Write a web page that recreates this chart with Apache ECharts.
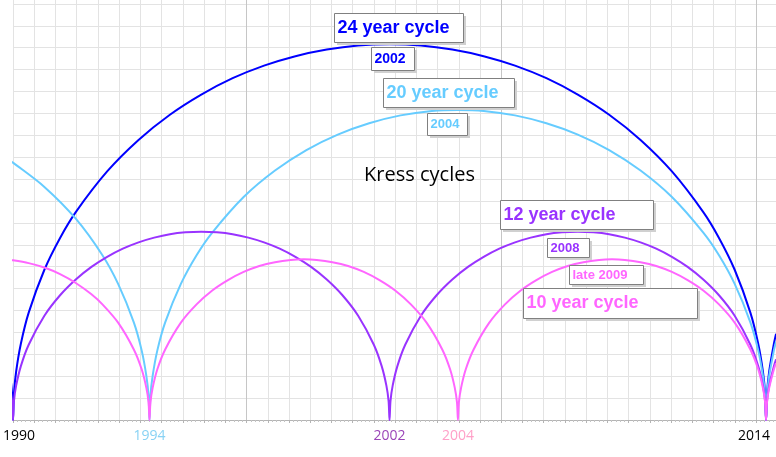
<!DOCTYPE html>
<html>
<head>
<meta charset="utf-8">
<script src="https://cdn.jsdelivr.net/npm/echarts@6.0.0/dist/echarts.min.js"></script>
<style>
    html, body {margin: 0; padding: 0; background: #fff;}
    #main {width: 776px; height: 457px;}
</style>
</head>
<body>
<div id="main"></div>
<script>
// cycle arcs, x in years, height in the same year units
var yearsC24 = [1989.87, 1989.97, 1990, 1990.03, 1990.1, 1990.25, 1990.5, 1991, 1991.5, 1992, 1993, 1994, 1995, 1996, 1997, 1998, 1999, 2000, 2001, 2002, 2003, 2004, 2005, 2006, 2007, 2008, 2009, 2010, 2011, 2012, 2012.5, 2013, 2013.5, 2013.75, 2013.9, 2013.97, 2014, 2014.03, 2014.1, 2014.25, 2014.32];
var heightC24 = [1.75, 0.84, 0, 0.84, 1.54, 2.42, 3.41, 4.77, 5.78, 6.60, 7.89, 8.89, 9.69, 10.33, 10.85, 11.25, 11.55, 11.76, 11.89, 11.93, 11.89, 11.76, 11.55, 11.25, 10.85, 10.33, 9.69, 8.89, 7.89, 6.60, 5.78, 4.77, 3.41, 2.42, 1.54, 0.84, 0, 0.84, 1.54, 2.42, 2.74];

var yearsC20 = [1989.87, 1990, 1991, 1992, 1992.85, 1993.35, 1993.85, 1994.1, 1994.25, 1994.32, 1994.35, 1994.38, 1994.45, 1994.6, 1994.85, 1995.35, 1995.85, 1996.35, 1997.35, 1998.35, 1999.35, 2000.35, 2001.35, 2002.35, 2003.35, 2004.18, 2005, 2006, 2007, 2008, 2009, 2010, 2011, 2012, 2012.5, 2013, 2013.5, 2013.75, 2013.9, 2013.97, 2014, 2014.03, 2014.1, 2014.25, 2014.32];
var heightC20 = [8.26, 8.17, 7.40, 6.39, 5.23, 4.32, 3.10, 2.21, 1.40, 0.77, 0, 0.77, 1.40, 2.21, 3.10, 4.32, 5.23, 5.95, 7.08, 7.92, 8.57, 9.06, 9.42, 9.67, 9.81, 9.84, 9.81, 9.67, 9.42, 9.06, 8.57, 7.92, 7.08, 5.95, 5.23, 4.32, 3.10, 2.21, 1.40, 0.77, 0, 0.77, 1.40, 2.21, 2.49];

var yearsC12 = [1989.87, 1989.97, 1990, 1990.03, 1990.1, 1990.25, 1990.5, 1991, 1991.5, 1992, 1992.5, 1993, 1993.5, 1994, 1994.5, 1995, 1995.5, 1996, 1996.5, 1997, 1997.5, 1998, 1998.5, 1999, 1999.5, 2000, 2000.5, 2001, 2001.5, 2001.75, 2001.9, 2001.97, 2002, 2002.03, 2002.1, 2002.25, 2002.5, 2003, 2003.5, 2004, 2004.5, 2005, 2005.5, 2006, 2006.5, 2007, 2007.5, 2008, 2008.5, 2009, 2009.5, 2010, 2010.5, 2011, 2011.5, 2012, 2012.5, 2013, 2013.5, 2013.75, 2013.9, 2013.97, 2014, 2014.03, 2014.1, 2014.25, 2014.32];
var heightC12 = [1.24, 0.60, 0, 0.60, 1.09, 1.71, 2.39, 3.31, 3.96, 4.46, 4.86, 5.18, 5.44, 5.64, 5.79, 5.90, 5.96, 5.98, 5.96, 5.90, 5.79, 5.64, 5.44, 5.18, 4.86, 4.46, 3.96, 3.31, 2.39, 1.71, 1.09, 0.60, 0, 0.60, 1.09, 1.71, 2.39, 3.31, 3.96, 4.46, 4.86, 5.18, 5.44, 5.64, 5.79, 5.90, 5.96, 5.98, 5.96, 5.90, 5.79, 5.64, 5.44, 5.18, 4.86, 4.46, 3.96, 3.31, 2.39, 1.71, 1.09, 0.60, 0, 0.60, 1.09, 1.71, 1.93];

var yearsC10 = [1989.87, 1990, 1990.5, 1991, 1991.5, 1992, 1992.5, 1992.85, 1993.35, 1993.85, 1994.1, 1994.25, 1994.32, 1994.35, 1994.38, 1994.45, 1994.6, 1994.85, 1995.35, 1995.85, 1996.35, 1996.85, 1997.35, 1997.85, 1998.35, 1998.85, 1999.27, 1999.68, 2000.18, 2000.68, 2001.18, 2001.68, 2002.18, 2002.68, 2003.18, 2003.68, 2003.93, 2004.08, 2004.15, 2004.18, 2004.21, 2004.28, 2004.43, 2004.68, 2005.18, 2005.68, 2006.18, 2006.68, 2007.18, 2007.68, 2008.18, 2008.68, 2009.09, 2009.5, 2010, 2010.5, 2011, 2011.5, 2012, 2012.5, 2013, 2013.5, 2013.75, 2013.9, 2013.97, 2014, 2014.03, 2014.1, 2014.25, 2014.32];
var heightC10 = [5.08, 5.07, 4.98, 4.84, 4.63, 4.35, 3.99, 3.67, 3.09, 2.24, 1.61, 1.02, 0.56, 0, 0.56, 1.02, 1.61, 2.24, 3.09, 3.67, 4.11, 4.44, 4.70, 4.89, 5.01, 5.08, 5.10, 5.08, 5.01, 4.89, 4.70, 4.44, 4.11, 3.67, 3.09, 2.24, 1.61, 1.02, 0.56, 0, 0.56, 1.02, 1.61, 2.24, 3.09, 3.67, 4.11, 4.44, 4.70, 4.89, 5.01, 5.08, 5.10, 5.08, 5.01, 4.89, 4.70, 4.44, 4.11, 3.67, 3.09, 2.24, 1.61, 1.02, 0.56, 0, 0.56, 1.02, 1.61, 1.81];

// labels under the axis sit on the cycle lows
var tickYears = [1990, 1994.35, 2002, 2004.18, 2014];
var tickTexts = ['1990', '1994', '2002', '2004', '2014'];

var pairs = function (xs, ys) {
    return xs.map(function (x, i) { return [x, ys[i]] })
}

var lightGrid = '#e3e3e3'
var vLineColors = []
for (var i = 0; i < 11; i++) vLineColors.push(lightGrid)
vLineColors.push('#c6c6c6')

var noteBox = function (x, y, w, h, text, font, color) {
    return {
        type: 'group',
        children: [
            {type: 'rect', z: 10, shape: {x: x + 3, y: y + 3, width: w, height: h}, style: {fill: '#d0d0d0'}},
            {type: 'rect', z: 11, shape: {x: x + 0.5, y: y + 0.5, width: w, height: h}, style: {fill: '#fff', stroke: '#808080', lineWidth: 1}},
            {type: 'text', z: 12, x: x + 3.5, y: y + h / 2 + 0.5, style: {text: text, font: font, fill: color, align: 'left', verticalAlign: 'middle'}}
        ]
    }
}

var arcLine = function (name, data, color) {
    return {
        name: name,
        type: 'line',
        xAxisIndex: 0,
        yAxisIndex: 0,
        data: data,
        symbol: 'none',
        smooth: 0.3,
        clip: false,
        lineStyle: {width: 2, color: color},
        itemStyle: {color: color}
    }
}

var myChart = echarts.init(document.getElementById('main'))
myChart.setOption({
    animation: false,
    backgroundColor: '#fff',
    grid: {left: 10, right: 0, top: 0, bottom: 37},
    xAxis: [
        {
            type: 'value',
            min: 1990,
            max: 2014.317,
            axisLine: {show: true, onZero: false, lineStyle: {color: '#b4b4b4'}},
            axisTick: {show: false},
            splitLine: {show: false},
            axisLabel: {
                customValues: tickYears,
                margin: 9,
                fontFamily: 'Open Sans',
                fontSize: 14,
                formatter: function (v) {
                    for (var k = 0; k < tickYears.length; k++) {
                        if (Math.abs(tickYears[k] - v) < 0.01) return '{c' + k + '|' + tickTexts[k] + '}'
                    }
                    return ''
                },
                rich: {
                    c0: {color: '#000', fontFamily: 'Open Sans', fontSize: 14, padding: [0, 0, 0, 12]},
                    c1: {color: '#88d2f4', fontFamily: 'Open Sans', fontSize: 14},
                    c2: {color: '#9b45b8', fontFamily: 'Open Sans', fontSize: 14},
                    c3: {color: '#ffa0c8', fontFamily: 'Open Sans', fontSize: 14},
                    c4: {color: '#000', fontFamily: 'Open Sans', fontSize: 14, padding: [0, 24, 0, 0]}
                }
            }
        },
        {
            // only the background grid
            type: 'value',
            position: 'bottom',
            min: 0,
            max: 35.94,
            interval: 1,
            axisLine: {show: false, onZero: false},
            axisLabel: {show: false},
            axisTick: {show: true, length: 3, lineStyle: {color: '#b4b4b4'}},
            minorTick: {show: true, splitNumber: 5, length: 2, lineStyle: {color: '#c4c4c4'}},
            splitLine: {show: true, showMaxLine: false, lineStyle: {color: vLineColors}}
        }
    ],
    yAxis: [
        {type: 'value', min: 0, max: 13.333, show: false},
        {
            type: 'value',
            min: 0,
            max: 19.18,
            interval: 1,
            axisLine: {show: false},
            axisTick: {show: false},
            axisLabel: {show: false},
            splitLine: {show: true, showMaxLine: false, lineStyle: {color: lightGrid}}
        }
    ],
    series: [
        arcLine('24 year cycle', pairs(yearsC24, heightC24), '#0000ff'),
        arcLine('20 year cycle', pairs(yearsC20, heightC20), '#66ccff'),
        arcLine('12 year cycle', pairs(yearsC12, heightC12), '#9933ff'),
        arcLine('10 year cycle', pairs(yearsC10, heightC10), '#ff66ff')
    ],
    graphic: [
        noteBox(334, 13, 129, 29, '24 year cycle', 'bold 18px "Liberation Sans"', '#0000ff'),
        noteBox(371, 47, 43, 23, '2002', 'bold 14px "Liberation Sans"', '#0000ff'),
        noteBox(383, 78, 131, 29, '20 year cycle', 'bold 18px "Liberation Sans"', '#66ccff'),
        noteBox(427, 113, 40, 22, '2004', 'bold 13px "Liberation Sans"', '#66ccff'),
        noteBox(500, 200, 153, 29, '12 year cycle', 'bold 18px "Liberation Sans"', '#9933ff'),
        noteBox(547, 238, 42, 19, '2008', 'bold 13px "Liberation Sans"', '#9933ff'),
        noteBox(569, 265, 74, 19, 'late 2009', 'bold 13px "Liberation Sans"', '#ff66ff'),
        noteBox(523, 288, 174, 30, '10 year cycle', 'bold 18px "Liberation Sans"', '#ff66ff'),
        {
            type: 'text',
            z: 12,
            x: 419.5,
            y: 175,
            style: {text: 'Kress cycles', font: '20px "Open Sans"', fill: '#000', align: 'center', verticalAlign: 'middle'}
        }
    ]
})
</script>
</body>
</html>
